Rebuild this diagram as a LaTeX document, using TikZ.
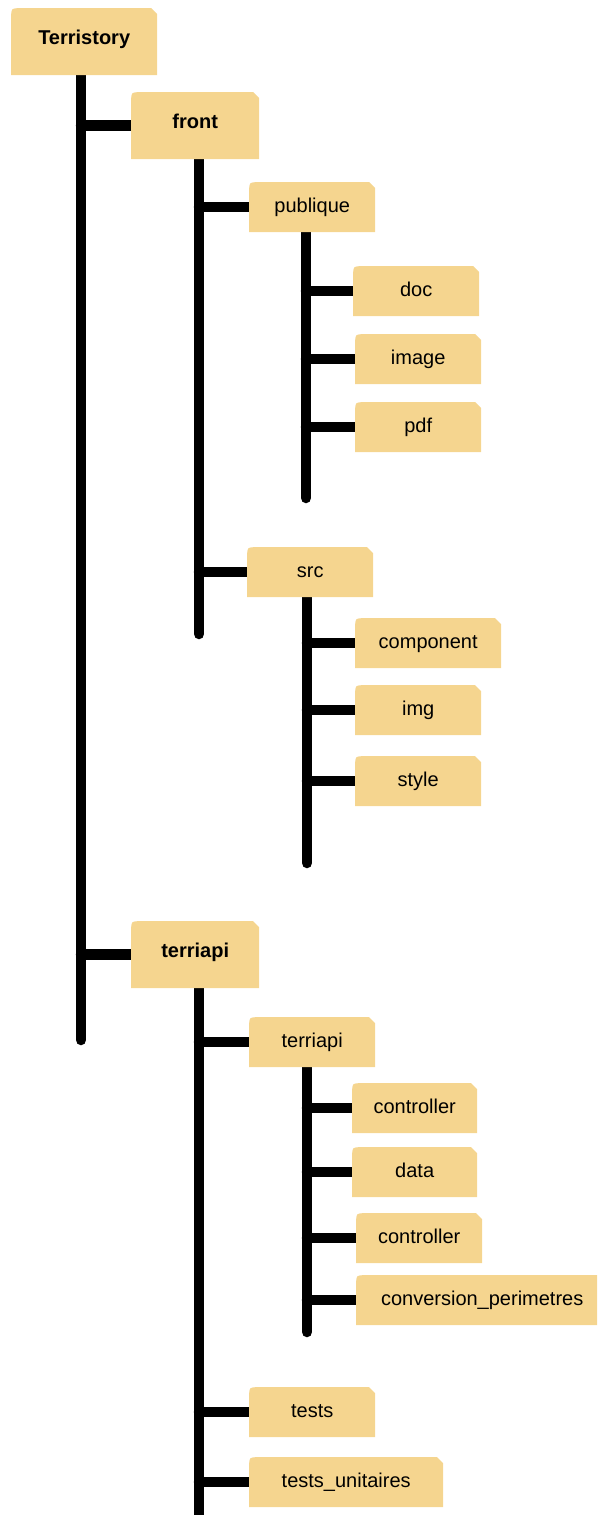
\documentclass[tikz,border=0pt]{standalone}
\usepackage{fontspec}
\setmainfont{Liberation Sans}
\usetikzlibrary{backgrounds}
\definecolor{folder}{RGB}{245,213,143}
\tikzset{
  box/.style={anchor=north west, inner sep=0pt, fill=white,
    font=\fontsize{20}{24}\selectfont, text height=10pt, text depth=0pt,
    minimum width=126pt, minimum height=50pt,
    path picture={\fill[folder] (path picture bounding box.south west)
      -- ([yshift=-9pt]path picture bounding box.north west)
      .. controls (path picture bounding box.north west) .. ([xshift=9pt]path picture bounding box.north west)
      -- ([xshift=-6pt]path picture bounding box.north east)
      -- ([yshift=-6pt]path picture bounding box.north east)
      -- (path picture bounding box.south east) -- cycle;}},
  bigbox/.style={box, font=\fontsize{20}{24}\selectfont\bfseries, text height=5pt,
    minimum width=128pt, minimum height=67pt},
  branch/.style={line width=10.5pt, line cap=round}
}
\begin{document}
\begin{tikzpicture}[x=1pt,y=-1pt]
  \useasboundingbox (0,0) rectangle (597,1515);
  \clip (0,0) rectangle (597,1515);

  % Folders: top level
  \node[bigbox, minimum width=146pt] (root) at (11,8) {Terristory};
  \node[bigbox] (front) at (131,92) {front};
  \node[bigbox] (terriapi) at (131,921) {terriapi};

  % front
  \node[box] (publique) at (249,182) {publique};
  \node[box] (doc) at (353,266) {doc};
  \node[box] (image) at (355,334) {image};
  \node[box] (pdf) at (355,402) {pdf};
  \node[box] (src) at (247,547) {src};
  \node[box, minimum width=146pt] (component) at (355,618) {component};
  \node[box] (img) at (355,685) {img};
  \node[box] (sty) at (355,756) {style};

  % terriapi
  \node[box] (api) at (249,1017) {terriapi};
  \node[box, minimum width=125pt] (ctrlA) at (352,1083) {controller};
  \node[box, minimum width=125pt] (data) at (352,1147) {data};
  \node[box] (ctrlB) at (356,1213) {controller};
  \node[box, minimum width=252pt] (conv) at (356,1275) {conversion\_perimetres};
  \node[box] (tests) at (249,1387) {tests};
  \node[box, minimum width=194pt] (unit) at (249,1457) {tests\_unitaires};

  % Trunk ends
  \coordinate (rootEnd) at (81,1040);
  \coordinate (frontEnd) at (199,634);
  \coordinate (publiqueEnd) at (306,498);
  \coordinate (srcEnd) at (307,863);
  \coordinate (terriapiEnd) at (199,1530);
  \coordinate (apiEnd) at (307,1332);

  \begin{pgfonlayer}{background}
    % Trunks
    \draw[branch] (rootEnd |- root.south) -- (rootEnd);
    \draw[branch] (frontEnd |- front.south) -- (frontEnd);
    \draw[branch] (publiqueEnd |- publique.south) -- (publiqueEnd);
    \draw[branch] (srcEnd |- src.south) -- (srcEnd);
    \draw[branch] (terriapiEnd |- terriapi.south) -- (terriapiEnd);
    \draw[branch] (apiEnd |- api.south) -- (apiEnd);

    % Branches
    \foreach \c in {front,terriapi} \draw[branch] (rootEnd |- \c.west) -- (\c.west);
    \foreach \c in {publique,src} \draw[branch] (frontEnd |- \c.west) -- (\c.west);
    \foreach \c in {doc,image,pdf} \draw[branch] (publiqueEnd |- \c.west) -- (\c.west);
    \foreach \c in {component,img,sty} \draw[branch] (srcEnd |- \c.west) -- (\c.west);
    \foreach \c in {api,tests,unit} \draw[branch] (terriapiEnd |- \c.west) -- (\c.west);
    \foreach \c in {ctrlA,data,ctrlB,conv} \draw[branch] (apiEnd |- \c.west) -- (\c.west);
  \end{pgfonlayer}
\end{tikzpicture}
\end{document}
